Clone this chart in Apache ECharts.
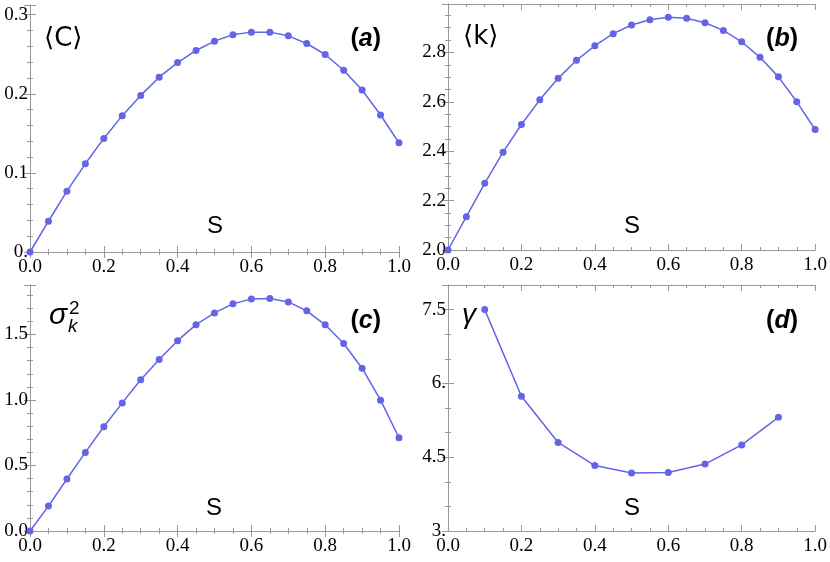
<!DOCTYPE html>
<html>
<head>
<meta charset="utf-8">
<title>S dependence</title>
<script src="https://cdn.jsdelivr.net/npm/echarts@6/dist/echarts.min.js"></script>
<style>
html,body{margin:0;padding:0;background:#fff;}
#main{width:830px;height:562px;}
</style>
</head>
<body>
<div id="main"></div>
<script>
// S values
var sValues = [0, 0.05, 0.1, 0.15, 0.2, 0.25, 0.3, 0.35, 0.4, 0.45, 0.5, 0.55, 0.6, 0.65, 0.7, 0.75, 0.8, 0.85, 0.9, 0.95, 1.0];
// (a) <C>
var avgC = [0, 0.0389, 0.0769, 0.1115, 0.1436, 0.1724, 0.198, 0.221, 0.2395, 0.2548, 0.2666, 0.2746, 0.278, 0.278, 0.2733, 0.2636, 0.2497, 0.2298, 0.2049, 0.1732, 0.138];
// (b) <k>
var avgK = [2.0, 2.135, 2.270, 2.396, 2.508, 2.608, 2.695, 2.768, 2.827, 2.876, 2.911, 2.932, 2.942, 2.938, 2.920, 2.889, 2.843, 2.780, 2.701, 2.600, 2.488];
// (c) sigma_k^2
var varK = [0, 0.19, 0.397, 0.60, 0.796, 0.978, 1.155, 1.31, 1.453, 1.575, 1.665, 1.734, 1.772, 1.775, 1.749, 1.681, 1.574, 1.431, 1.243, 0.999, 0.712];
// (d) gamma
var gammaS = [0.1, 0.2, 0.3, 0.4, 0.5, 0.6, 0.7, 0.8, 0.9];
var gamma = [7.5, 5.74, 4.80, 4.33, 4.18, 4.19, 4.36, 4.75, 5.31];
// tick labels
var xTicks = [0, 0.2, 0.4, 0.6, 0.8, 1.0], xTickLabels = ["0.0", "0.2", "0.4", "0.6", "0.8", "1.0"];
var yTicksA = [0, 0.1, 0.2, 0.3], yLabelsA = ["0.", "0.1", "0.2", "0.3"];
var yTicksB = [2.0, 2.2, 2.4, 2.6, 2.8], yLabelsB = ["2.0", "2.2", "2.4", "2.6", "2.8"];
var yTicksC = [0, 0.5, 1.0, 1.5], yLabelsC = ["0.0", "0.5", "1.0", "1.5"];
var yTicksD = [3, 4.5, 6, 7.5], yLabelsD = ["3.", "4.5", "6.", "7.5"];

var lineColor = "#6464e6";
var frameColor = "#999";
var tickFont = "'Liberation Serif', 'Times New Roman', serif";

function zip(xs, ys) {
    var out = [];
    for (var i = 0; i < xs.length; i++) out.push([xs[i], ys[i]]);
    return out;
}

// only the major values get a label (the extent ticks ECharts adds stay empty)
function labelFor(ticks, labels) {
    return function (v) {
        for (var i = 0; i < ticks.length; i++) {
            if (Math.abs(v - ticks[i]) < 1e-6) return labels[i];
        }
        return "";
    };
}

var option = {
    animation: false,
    backgroundColor: "#fff",
    grid: [],
    xAxis: [],
    yAxis: [],
    series: [],
    graphic: []
};

// one framed panel: main axes with labels + minor-tick axes on all four sides
function addPanel(rect, yMin, yMax, yMajor, yMinor, yTicks, yLabels, data) {
    var g = option.grid.length;
    option.grid.push({left: rect[0], top: rect[1], width: rect[2], height: rect[3], containLabel: false});
    var xi = option.xAxis.length, yi = option.yAxis.length;
    ["bottom", "top"].forEach(function (pos, k) {
        [[0.2, 6], [0.05, 3]].forEach(function (t, m) {
            option.xAxis.push({
                type: "value", gridIndex: g, position: pos, min: 0, max: 1, interval: t[0],
                axisLine: {show: m == 0, lineStyle: {color: frameColor, width: 1}},
                axisTick: {show: true, inside: true, length: t[1], lineStyle: {color: frameColor}},
                axisLabel: {show: k == 0 && m == 0, margin: 6, fontSize: 19, fontFamily: tickFont, color: "#000",
                    formatter: labelFor(xTicks, xTickLabels)},
                splitLine: {show: false}
            });
        });
    });
    ["left", "right"].forEach(function (pos, k) {
        [[yMajor, 6], [yMinor, 3]].forEach(function (t, m) {
            option.yAxis.push({
                type: "value", gridIndex: g, position: pos, min: yMin, max: yMax, interval: t[0],
                axisLine: {show: m == 0, lineStyle: {color: frameColor, width: 1}},
                axisTick: {show: true, inside: true, length: t[1], lineStyle: {color: frameColor}},
                axisLabel: {show: k == 0 && m == 0, margin: 2, fontSize: 19, fontFamily: tickFont, color: "#000",
                    formatter: labelFor(yTicks, yLabels)},
                splitLine: {show: false}
            });
        });
    });
    option.series.push({
        type: "line", xAxisIndex: xi, yAxisIndex: yi, data: data,
        symbol: "circle", symbolSize: 7, showSymbol: true,
        lineStyle: {color: lineColor, width: 1.5},
        itemStyle: {color: lineColor},
        clip: false
    });
}

addPanel([30, 5, 369, 247], 0, 0.3123, 0.1, 0.02, yTicksA, yLabelsA, zip(sValues, avgC));
addPanel([448, 4, 369, 246], 2.0, 2.996, 0.2, 0.05, yTicksB, yLabelsB, zip(sValues, avgK));
addPanel([30, 285, 369, 246], 0, 1.878, 0.5, 0.1, yTicksC, yLabelsC, zip(sValues, varK));
addPanel([448, 285, 369, 246], 3, 8.0, 1.5, 0.5, yTicksD, yLabelsD, zip(gammaS, gamma));

// texts inside the panels
function txt(x, y, s, font, align) {
    option.graphic.push({
        type: "text", x: x, y: y, z: 100,
        style: {text: s, font: font, fill: "#000", textAlign: align || "left", textVerticalAlign: "middle",
            align: align || "left", verticalAlign: "middle"}
    });
}
function tag(x, y, letter) {
    option.graphic.push({
        type: "text", x: x, y: y, z: 100,
        style: {
            text: "{p|(}{i|" + letter + "}{p|)}", align: "right", verticalAlign: "middle",
            textAlign: "right", textVerticalAlign: "middle",
            rich: {
                p: {font: "bold 25px 'Liberation Sans', Arial", fill: "#000"},
                i: {font: "italic bold 25px 'Liberation Sans', Arial", fill: "#000"}
            }
        }
    });
}
var sans = "24px 'Liberation Sans', 'DejaVu Sans', Arial";
txt(44, 39, "\u27E8C\u27E9", "26px 'DejaVu Sans', 'Liberation Sans'");
txt(463, 37, "\u27E8k\u27E9", "26px 'DejaVu Sans', 'Liberation Sans'");
txt(49, 316, "\u03C3", "italic 30px 'Liberation Sans', 'DejaVu Sans'");
txt(69, 309, "2", "19px 'Liberation Sans', Arial");
txt(68, 327, "k", "italic 19px 'Liberation Sans', Arial");
txt(462, 315, "\u03B3", "italic 28px 'Liberation Sans', 'DejaVu Sans'");
tag(381, 39, "a");
tag(798, 39, "b");
tag(381, 321, "c");
tag(798, 321, "d");
txt(215, 226, "S", sans, "center");
txt(632, 226, "S", sans, "center");
txt(214, 508, "S", sans, "center");
txt(632, 508, "S", sans, "center");

var myChart = echarts.init(document.getElementById("main"));
myChart.setOption(option);
</script>
</body>
</html>
